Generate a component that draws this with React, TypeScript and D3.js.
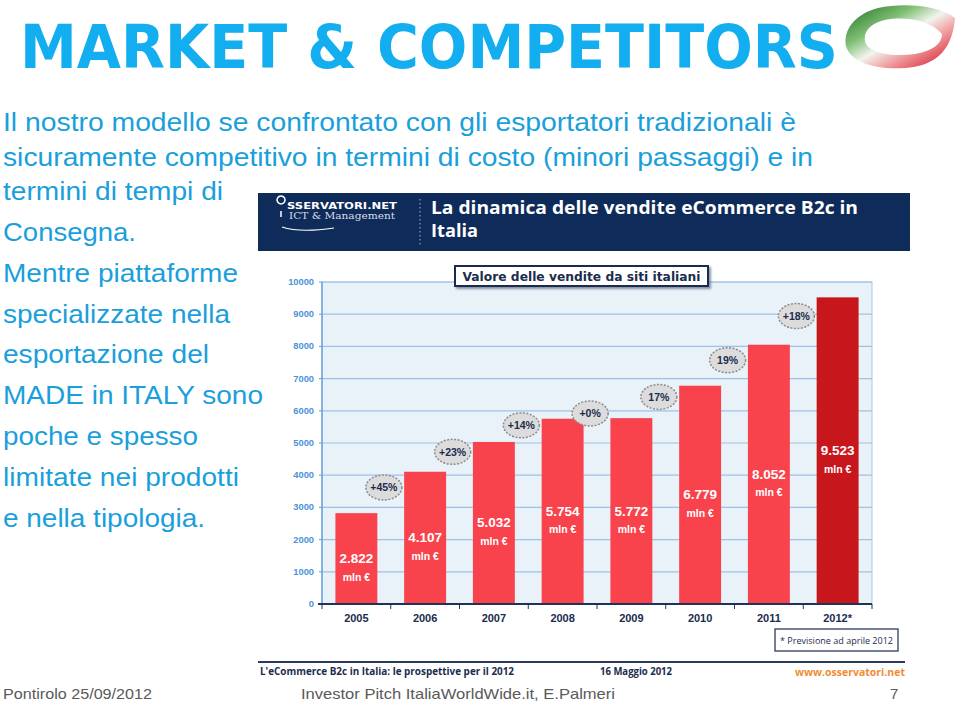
import React from "react";
import * as d3 from "d3";

const years = ["2005", "2006", "2007", "2008", "2009", "2010", "2011", "2012*"];
const sales = [2822, 4107, 5032, 5754, 5772, 6779, 8052, 9523];
const salesLabels = ["2.822", "4.107", "5.032", "5.754", "5.772", "6.779", "8.052", "9.523"];
const growth = ["+45%", "+23%", "+14%", "+0%", "17%", "19%", "+18%"];
const forecastYear = "2012*";

const introLines = [
  "Il nostro modello se confrontato con gli esportatori tradizionali è",
  "sicuramente competitivo in termini di costo (minori passaggi) e in",
  "termini di tempi di",
];
const introWidths = [793, 810, 220];
const bodyLines = [
  "Consegna.",
  "Mentre piattaforme",
  "specializzate nella",
  "esportazione del",
  "MADE in ITALY sono",
  "poche e spesso",
  "limitate nei prodotti",
  "e nella tipologia.",
];
const bodyWidths = [133, 235, 227, 206, 260, 195, 236, 202];

const W = 959;
const H = 703;

export default function App() {
  const plot = { left: 322, right: 872, top: 282, bottom: 604 };
  const x = d3
    .scaleBand<string>()
    .domain(years)
    .range([plot.left, plot.right])
    .paddingInner(0.39)
    .paddingOuter(0.195);
  const y = d3.scaleLinear().domain([0, 10000]).range([plot.bottom, plot.top]);
  const yTicks = y.ticks(10);
  const step = x.step();
  const bw = x.bandwidth();
  const boundaries = d3.range(years.length + 1).map((k) => plot.left + k * step);

  const blue = "#1a9fdc";
  const navy = "#1b2c4d";
  const sans = "Liberation Sans, Arial, sans-serif";

  return (
    <svg
      width={W}
      height={H}
      viewBox={`0 0 ${W} ${H}`}
      style={{ position: "absolute", left: 0, top: 0, background: "#fff" }}
    >
      <defs>
        <linearGradient id="ribbon" x1="0" y1="0.1" x2="0.9" y2="1">
          <stop offset="0" stopColor="#2c7a2e" />
          <stop offset="0.3" stopColor="#7fbf74" />
          <stop offset="0.5" stopColor="#f2f4ee" />
          <stop offset="0.68" stopColor="#f0a0a2" />
          <stop offset="1" stopColor="#d61c2a" />
        </linearGradient>
        <filter id="shadow" x="-10%" y="-30%" width="120%" height="160%">
          <feDropShadow dx="2" dy="2" stdDeviation="1" floodColor="#5a6a80" floodOpacity="0.7" />
        </filter>
      </defs>

      {/* Title */}
      <text
        x={20}
        y={68}
        fontFamily="DejaVu Sans, sans-serif"
        fontWeight="bold"
        fontSize={60}
        fill="#12aeef"
        textLength={818}
        lengthAdjust="spacingAndGlyphs"
      >
        MARKET &amp; COMPETITORS
      </text>

      {/* Logo ribbon */}
      <path
        d="M955,18 C940,6 905,2 878,8 C855,14 843,30 846,46 C850,62 875,70 905,68 C932,66 952,54 955,18 Z
           M942,34 C930,20 905,16 885,20 C868,24 862,34 866,44 C872,54 895,57 915,54 C932,51 942,44 942,34 Z"
        fill="url(#ribbon)"
        fillRule="evenodd"
      />

      {/* Intro text */}
      {introLines.map((t, i) => (
        <text
          key={t}
          x={3}
          y={131 + i * 34.5}
          fontFamily={sans}
          fontSize={26}
          fill={blue}
          textLength={introWidths[i]}
          lengthAdjust="spacingAndGlyphs"
        >
          {t}
        </text>
      ))}
      {bodyLines.map((t, i) => (
        <text
          key={t}
          x={3}
          y={241 + i * 40.8}
          fontFamily={sans}
          fontSize={26}
          fill={blue}
          textLength={bodyWidths[i]}
          lengthAdjust="spacingAndGlyphs"
        >
          {t}
        </text>
      ))}

      {/* Chart header */}
      <rect x={258} y={193} width={652} height={58} fill="#0e2b5a" />
      <path d="M281,204 a4,4 0 1,1 0.1,0 M281,211 L281,217" stroke="#fff" strokeWidth={1.5} fill="none" />
      <text x={287} y={209} fontFamily="DejaVu Sans, sans-serif" fontWeight="bold" fontSize={8.5} fill="#fff" textLength={110} lengthAdjust="spacingAndGlyphs">
        SSERVATORI.NET
      </text>
      <text x={289} y={219} fontFamily="DejaVu Serif, serif" fontSize={8.5} fill="#d8dde8" textLength={106} lengthAdjust="spacingAndGlyphs">
        ICT &amp; Management
      </text>
      <path d="M282,227 Q300,233 334,228" stroke="#fff" strokeWidth={1.2} fill="none" />
      <line x1={420} x2={420} y1={199} y2={247} stroke="#9fb0cc" strokeWidth={1} strokeDasharray="1.5,2.5" />
      <text x={431} y={214} fontFamily="Open Sans, sans-serif" fontWeight="bold" fontSize={17.5} fill="#fff" textLength={427} lengthAdjust="spacingAndGlyphs">
        La dinamica delle vendite eCommerce B2c in
      </text>
      <text x={431} y={237} fontFamily="Open Sans, sans-serif" fontWeight="bold" fontSize={17.5} fill="#fff" textLength={47} lengthAdjust="spacingAndGlyphs">
        Italia
      </text>

      {/* Plot background */}
      <rect x={plot.left} y={plot.top} width={plot.right - plot.left} height={plot.bottom - plot.top} fill="#e9f1f9" stroke="#a9c9e8" strokeWidth={1} />

      {/* Gridlines & y axis */}
      {yTicks.map((t) => (
        <g key={t}>
          {t > 0 && (
            <line x1={plot.left} x2={plot.right} y1={y(t)} y2={y(t)} stroke="#9fc2e4" strokeWidth={1.2} />
          )}
          <line x1={plot.left - 3} x2={plot.left} y1={y(t)} y2={y(t)} stroke="#5d9bd5" strokeWidth={1} />
          <text
            x={314}
            y={y(t)}
            textAnchor="end"
            dominantBaseline="central"
            fontFamily={sans}
            fontWeight="bold"
            fontSize={9.3}
            fill="#4a93d6"
          >
            {t}
          </text>
        </g>
      ))}
      <line x1={plot.left} x2={plot.left} y1={plot.top} y2={plot.bottom} stroke="#6aa6dc" strokeWidth={1.5} />

      {/* Bars */}
      {years.map((yr, i) => (
        <rect
          key={yr}
          x={x(yr)}
          y={y(sales[i])}
          width={bw}
          height={y(0) - y(sales[i])}
          fill={yr === forecastYear ? "#c8171c" : "#f9434c"}
        />
      ))}

      {/* Bar labels */}
      {years.map((yr, i) => {
        const cx = (x(yr) as number) + bw / 2;
        const cy = y(sales[i] / 2);
        return (
          <g key={yr} fontFamily={sans} fontWeight="bold" fill="#fff" textAnchor="middle">
            <text x={cx} y={cy} dominantBaseline="central" fontSize={13.5}>
              {salesLabels[i]}
            </text>
            <text x={cx} y={cy + 18} dominantBaseline="central" fontSize={10.5}>
              mln €
            </text>
          </g>
        );
      })}

      {/* Growth bubbles */}
      {growth.map((g, i) => {
        const cx = (x(years[i]) as number) + bw / 2 + 0.4 * step;
        const cy = (y(sales[i]) + y(sales[i + 1])) / 2 - 5;
        return (
          <g key={g + i}>
            <ellipse cx={cx} cy={cy} rx={18} ry={12.5} fill="#dcdcdc" stroke="#8c8c8c" strokeWidth={1.5} strokeDasharray="2,1.5" />
            <text
              x={cx}
              y={cy}
              textAnchor="middle"
              dominantBaseline="central"
              fontFamily={sans}
              fontWeight="bold"
              fontSize={10.5}
              fill={navy}
            >
              {g}
            </text>
          </g>
        );
      })}

      {/* X axis */}
      <line x1={plot.left - 4} x2={plot.right} y1={plot.bottom} y2={plot.bottom} stroke="#1f3358" strokeWidth={2} />
      {boundaries.map((b, k) => (
        <line key={k} x1={b} x2={b} y1={plot.bottom} y2={plot.bottom + 5} stroke="#1f3358" strokeWidth={1} />
      ))}
      {years.map((yr) => (
        <text
          key={yr}
          x={(x(yr) as number) + bw / 2}
          y={618}
          textAnchor="middle"
          dominantBaseline="central"
          fontFamily={sans}
          fontWeight="bold"
          fontSize={11}
          fill={navy}
        >
          {yr}
        </text>
      ))}

      {/* Valore box */}
      <g filter="url(#shadow)">
        <rect x={455} y={266} width={253} height={20} fill="#fff" stroke="#1b2c4d" strokeWidth={2} />
      </g>
      <text x={581.5} y={277} textAnchor="middle" dominantBaseline="central" fontFamily="DejaVu Sans, sans-serif" fontWeight="bold" fontSize={12} fill={navy} textLength={238} lengthAdjust="spacingAndGlyphs">
        Valore delle vendite da siti italiani
      </text>

      {/* Footnote box */}
      <rect x={775} y={629} width={123} height={22} fill="#fff" stroke="#2a3b5c" strokeWidth={1.3} />
      <text x={836.5} y={640} textAnchor="middle" dominantBaseline="central" fontFamily="Open Sans, sans-serif" fontSize={9.5} fill={navy} textLength={113} lengthAdjust="spacingAndGlyphs">
        * Previsione ad aprile 2012
      </text>

      {/* Chart footer */}
      <line x1={258} x2={905} y1={662} y2={662} stroke="#2c3d5c" strokeWidth={2} />
      <text x={260} y={671} dominantBaseline="central" fontFamily="Open Sans, sans-serif" fontWeight="bold" fontSize={10.5} fill={navy} textLength={254} lengthAdjust="spacingAndGlyphs">
        L'eCommerce B2c in Italia: le prospettive per il 2012
      </text>
      <text x={600} y={671} dominantBaseline="central" fontFamily="Open Sans, sans-serif" fontWeight="bold" fontSize={10.5} fill={navy} textLength={72} lengthAdjust="spacingAndGlyphs">
        16 Maggio 2012
      </text>
      <text x={795} y={671} dominantBaseline="central" fontFamily="Open Sans, sans-serif" fontWeight="bold" fontSize={11} fill="#f08c32" textLength={110} lengthAdjust="spacingAndGlyphs">
        www.osservatori.net
      </text>

      {/* Page footer */}
      <g fontFamily="Liberation Sans Narrow, Liberation Sans, sans-serif" fontSize={15} fill="#595959">
        <text x={3} y={699} textLength={149} lengthAdjust="spacingAndGlyphs">
          Pontirolo 25/09/2012
        </text>
        <text x={301} y={699} textLength={314} lengthAdjust="spacingAndGlyphs">
          Investor Pitch ItaliaWorldWide.it, E.Palmeri
        </text>
        <text x={890} y={699}>7</text>
      </g>
    </svg>
  );
}
